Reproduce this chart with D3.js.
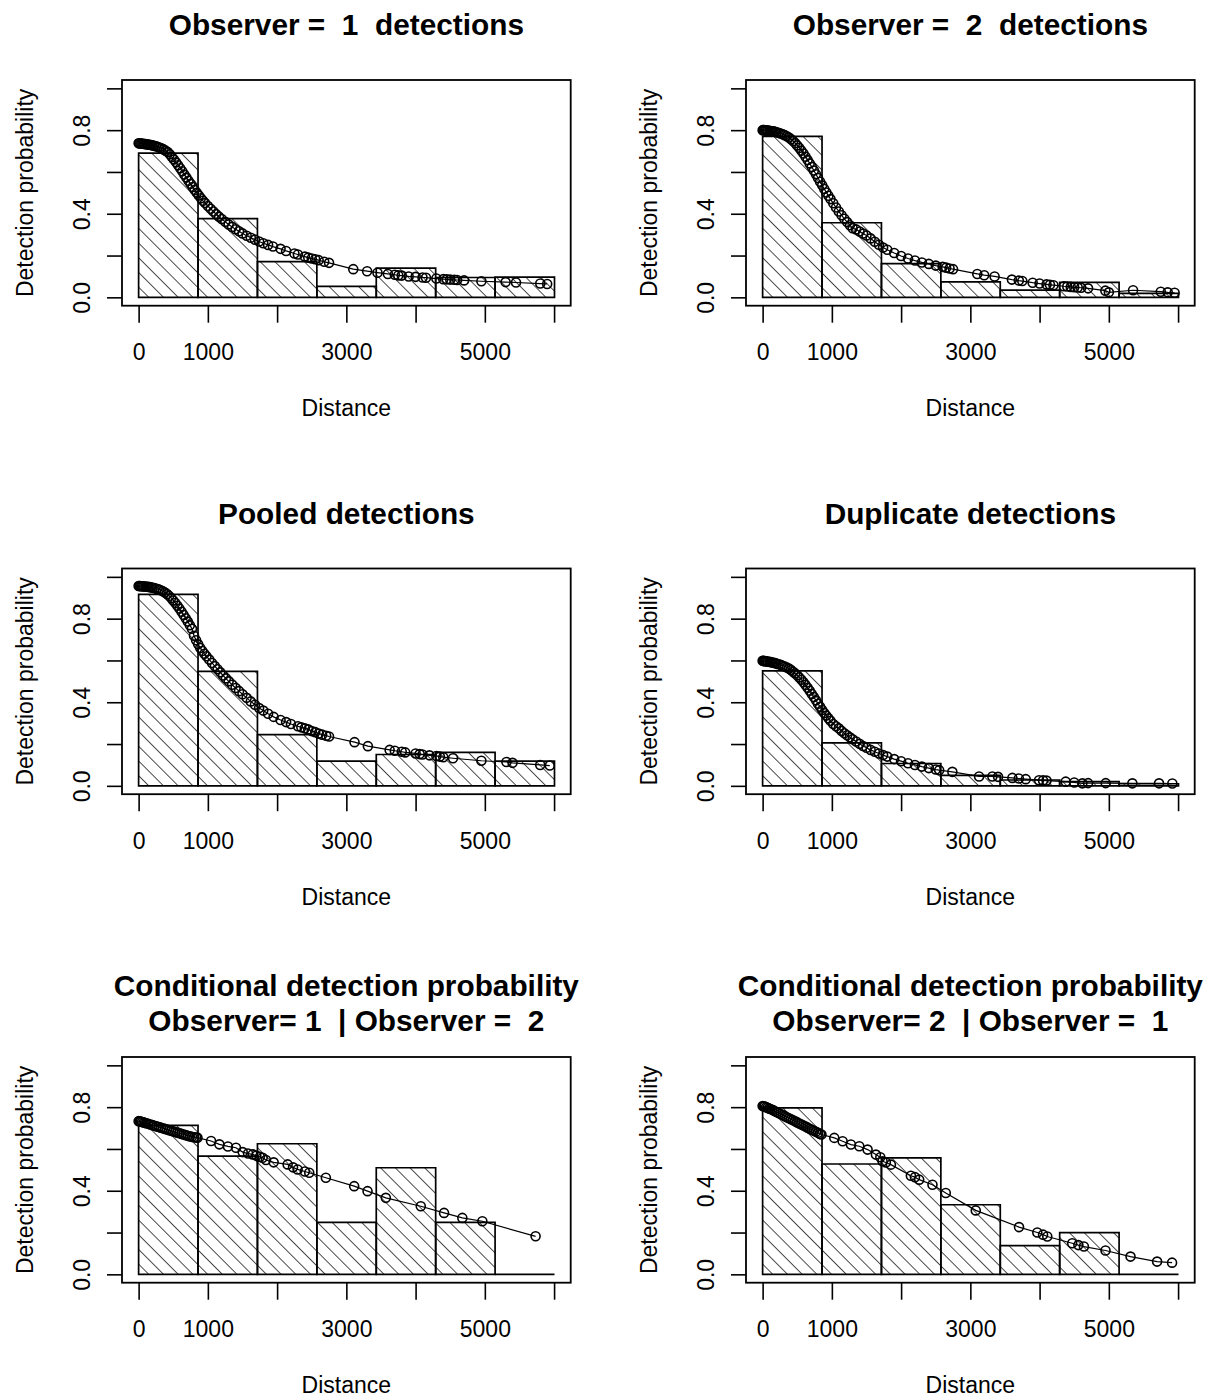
<!DOCTYPE html>
<html>
<head>
<meta charset="utf-8">
<script src="https://cdn.jsdelivr.net/npm/d3@7"></script>
<style>
  body { margin: 0; background: #fff; }
  text { font-family: "Liberation Sans", Arial, sans-serif; fill: #000; }
</style>
</head>
<body>
<script>
// histogram breaks shared by every panel
var breaks = [0, 858, 1716, 2574, 3432, 4290, 5148, 6006];

// Observer = 1
var obs1Hist = [0.69, 0.377, 0.171, 0.052, 0.14, 0.095, 0.097];
var obs1Dist = [0, 10, 25, 40, 55, 70, 85, 100, 120, 140, 160, 180, 200, 225, 250, 275, 300, 330, 360, 390,
  420, 450, 480, 510, 540, 570, 600, 630, 660, 690, 720, 750, 780, 810, 840, 870, 900, 930, 960, 1000,
  1040, 1080, 1120, 1160, 1200, 1250, 1300, 1350, 1400, 1450, 1500, 1560, 1620, 1680, 1740, 1800, 1870, 1940,
  2050, 2130, 2250, 2300, 2400, 2450, 2500, 2550, 2600, 2680, 2750, 3100, 3300, 3450, 3600, 3700, 3750, 3800,
  3900, 4000, 4100, 4150, 4300, 4400, 4450, 4500, 4560, 4600, 4700, 4950, 5300, 5450, 5800, 5900];
var obs1Prob = [.737, .737, .736, .736, .735, .735, .734, .733, .732, .731, .730, .729, .727, .725, .723, .720, .717, .713, .708, .702,
  .695, .685, .672, .660, .646, .632, .618, .603, .588, .573, .558, .543, .528, .514, .500, .487, .474, .462, .451, .437,
  .424, .411, .398, .386, .375, .362, .349, .337, .326, .316, .306, .295, .285, .276, .267, .259, .251, .243,
  .232, .222, .210, .205, .195, .190, .186, .182, .178, .170, .165, .135, .125, .118, .112, .108, .105, .104,
  .100, .098, .095, .094, .090, .087, .086, .085, .084, .083, .081, .077, .073, .071, .066, .064];

// Observer = 2
var obs2Hist = [0.77, 0.357, 0.161, 0.074, 0.035, 0.072, 0.019];
var obs2Dist = [0, 10, 20, 35, 50, 65, 80, 100, 120, 140, 160, 180, 200, 230, 260, 290, 320, 350,
  380, 410, 440, 470, 500, 530, 560, 590, 620, 650, 680, 710, 740, 770, 800, 830, 860, 890, 920, 950, 980,
  1020, 1060, 1100, 1140, 1180, 1220, 1260, 1300, 1350, 1400, 1450, 1500, 1560, 1620, 1680, 1740,
  1800, 1900, 2000, 2100, 2200, 2300, 2400, 2500, 2600, 2650, 2700, 2750, 3100, 3200, 3350, 3600, 3700, 3750,
  3900, 4000, 4100, 4150, 4200, 4350, 4400, 4450, 4500, 4550, 4600, 4700, 4950, 5000, 5350, 5750, 5850, 5950];
var obs2Prob = [.800, .800, .800, .799, .799, .798, .798, .797, .796, .795, .794, .792, .790, .787, .784, .780, .776, .771,
  .765, .757, .748, .738, .727, .715, .702, .688, .673, .657, .641, .624, .607, .589, .571, .553, .536, .519, .502, .486, .470,
  .450, .430, .411, .393, .376, .360, .345, .331, .325, .315, .305, .296, .282, .266, .252, .238,
  .228, .212, .198, .186, .176, .167, .160, .152, .146, .142, .138, .135, .112, .106, .100, .085, .080, .078,
  .070, .066, .062, .060, .058, .053, .052, .050, .048, .047, .046, .043, .032, .024, .034, .027, .024, .022];

// Pooled
var poolHist = [0.916, 0.548, 0.245, 0.118, 0.15, 0.16, 0.118];
var poolDist = [0, 10, 20, 35, 50, 65, 80, 100, 120, 140, 160, 180, 200, 230, 260, 290, 320, 350,
  380, 410, 440, 470, 500, 530, 560, 590, 620, 650, 680, 710, 740, 770, 800, 830, 860, 890, 920, 950, 980,
  1020, 1060, 1100, 1140, 1180, 1220, 1260, 1300, 1350, 1400, 1450, 1500, 1560, 1620, 1680, 1740,
  1800, 1870, 1950, 2050, 2130, 2200, 2300, 2350, 2400, 2450, 2500, 2550, 2600, 2650, 2708, 2750,
  3118, 3311, 3625, 3700, 3800, 3850, 4000, 4059, 4100, 4200, 4300, 4350, 4400, 4540, 4950, 5312, 5400, 5800, 5938];
var poolProb = [.956, .956, .956, .955, .955, .955, .954, .954, .953, .952, .951, .950, .948, .946, .943, .940, .936, .931,
  .925, .918, .909, .899, .887, .875, .862, .848, .833, .818, .802, .786, .769, .752, .718, .697, .677, .660, .645, .632, .620,
  .604, .588, .573, .558, .543, .528, .514, .500, .484, .468, .453, .438, .421, .404, .388, .372,
  .360, .345, .330, .315, .305, .296, .285, .280, .275, .270, .262, .257, .250, .245, .240, .236,
  .209, .190, .172, .168, .163, .160, .155, .152, .150, .146, .143, .140, .137, .132, .120, .114, .110, .100, .097];

// Duplicates
var dupHist = [0.55, 0.206, 0.107, 0.05, 0.028, 0.02, 0.01];
var dupDist = [0, 10, 20, 35, 50, 65, 80, 100, 120, 140, 160, 180, 200, 230, 260, 290, 320, 350,
  380, 410, 440, 470, 500, 530, 560, 590, 620, 650, 680, 710, 740, 770, 800, 830, 860, 890, 920, 950, 980,
  1020, 1060, 1100, 1140, 1180, 1220, 1260, 1300, 1350, 1400, 1450, 1500, 1560, 1620, 1680, 1740,
  1800, 1900, 2000, 2100, 2200, 2300, 2400, 2500, 2550, 2740, 3126, 3318, 3400, 3607, 3700, 3800, 3992, 4050, 4100,
  4377, 4500, 4618, 4700, 4955, 5340, 5725, 5917];
var dupProb = [.598, .598, .597, .597, .596, .595, .594, .593, .592, .590, .589, .587, .585, .582, .579, .575, .571, .566,
  .561, .554, .546, .538, .529, .519, .508, .496, .483, .469, .455, .440, .425, .409, .393, .378, .363, .349, .336, .323, .311,
  .296, .285, .275, .263, .252, .242, .232, .223, .212, .201, .191, .182, .172, .163, .155, .147,
  .140, .128, .118, .108, .100, .092, .085, .078, .075, .067, .045, .045, .043, .038, .035, .032, .027, .026, .025,
  .020, .016, .012, .013, .013, .012, .012, .011];

// Conditional 1 | 2
var cond1Hist = [0.713, 0.566, 0.625, 0.249, 0.51, 0.249, 0];
var cond1Dist = [0, 15, 30, 50, 70, 90, 110, 140, 170, 200, 230, 260, 290, 320, 350, 380, 410, 440, 470, 500,
  530, 560, 590, 620, 650, 680, 710, 740, 770, 800, 830, 850,
  1046, 1166, 1290, 1406, 1503, 1580, 1647, 1700, 1750, 1791, 1839, 1950, 2152, 2230, 2296, 2400, 2464, 2704,
  3113, 3306, 3570, 4075, 4411, 4675, 4964, 5733];
var cond1Prob = [.733, .732, .731, .729, .727, .725, .723, .720, .717, .714, .711, .708, .705, .702, .699, .696, .693, .690, .687, .684,
  .681, .678, .675, .672, .669, .666, .663, .660, .658, .656, .655, .654,
  .638, .622, .612, .606, .585, .578, .574, .568, .562, .558, .547, .536, .526, .512, .502, .492, .486, .462,
  .422, .398, .366, .326, .294, .270, .254, .182];

// Conditional 2 | 1
var cond2Hist = [0.797, 0.528, 0.557, 0.333, 0.137, 0.2, 0];
var cond2Dist = [0, 15, 30, 50, 70, 90, 110, 140, 170, 200, 230, 260, 290, 320, 350, 380, 410, 440, 470, 500,
  530, 560, 590, 620, 650, 680, 710, 740, 770, 800, 830, 850,
  1035, 1155, 1275, 1396, 1516, 1636, 1700, 1732, 1780, 1853, 2141, 2200, 2261, 2453, 2645, 3078, 3703, 3967,
  4050, 4111, 4471, 4560, 4640, 4952, 5313, 5697, 5913];
var cond2Prob = [.805, .804, .803, .800, .797, .794, .791, .787, .782, .777, .772, .767, .762, .757, .752, .747, .742, .737, .732, .727,
  .722, .717, .712, .707, .702, .697, .692, .687, .682, .677, .672, .669,
  .653, .637, .621, .613, .597, .573, .560, .541, .535, .525, .472, .465, .453, .429, .389, .306, .226, .200,
  .190, .181, .149, .140, .133, .114, .085, .061, .056];

var xTicks = [0, 1000, 2000, 3000, 4000, 5000, 6000];
var xLabels = [0, 1000, 3000, 5000];
var yTicks = [0, 0.2, 0.4, 0.6, 0.8, 1.0];
var yLabels = [0, 0.4, 0.8];

var panels = [
  {title: ["Observer =  1  detections"], hist: obs1Hist, dist: obs1Dist, prob: obs1Prob},
  {title: ["Observer =  2  detections"], hist: obs2Hist, dist: obs2Dist, prob: obs2Prob},
  {title: ["Pooled detections"], hist: poolHist, dist: poolDist, prob: poolProb},
  {title: ["Duplicate detections"], hist: dupHist, dist: dupDist, prob: dupProb},
  {title: ["Conditional detection probability", "Observer= 1  | Observer =  2"], hist: cond1Hist, dist: cond1Dist, prob: cond1Prob},
  {title: ["Conditional detection probability", "Observer= 2  | Observer =  1"], hist: cond2Hist, dist: cond2Dist, prob: cond2Prob}
];

var boxW = 448.7, boxH = 225.7;

var svg = d3.select("body")
  .append("svg")
  .attr("width", 1209)
  .attr("height", 1400);

// hatch pattern, lines going down to the right
svg.append("defs")
  .append("pattern")
  .attr("id", "hatch")
  .attr("patternUnits", "userSpaceOnUse")
  .attr("width", 10.4)
  .attr("height", 10.4)
  .attr("patternTransform", "rotate(-45)")
  .append("line")
  .attr("x1", 0).attr("y1", 0)
  .attr("x2", 0).attr("y2", 10.4)
  .attr("stroke", "#000")
  .attr("stroke-width", 1.4);

panels.forEach(function(p, i) {
  var col = i % 2, row = Math.floor(i / 2);
  var left = 122 + col * 624, top = 80 + row * 488.5;

  var g = svg.append("g")
    .attr("transform", "translate(" + left + "," + top + ")");

  var x = d3.scaleLinear().domain([-240, 6240]).range([0, boxW]);
  var y = d3.scaleLinear().domain([-0.04, 1.04]).range([boxH, 0]);

  // histogram bars
  var bins = p.hist.map(function(h, k) { return {x0: breaks[k], x1: breaks[k + 1], h: h}; });
  g.selectAll("path.bar")
    .data(bins)
    .enter()
    .append("path")
    .attr("class", "bar")
    .attr("d", function(d) {
      return "M" + x(d.x0) + "," + y(0) + "V" + y(d.h) + "H" + x(d.x1) + "V" + y(0) + "Z";
    })
    .attr("fill", "url(#hatch)")
    .attr("stroke", "#000")
    .attr("stroke-width", 1.7);

  // fitted line and points
  var pts = p.dist.map(function(d, k) { return [d, p.prob[k]]; });
  g.append("path")
    .datum(pts)
    .attr("fill", "none")
    .attr("stroke", "#000")
    .attr("stroke-width", 1.2)
    .attr("d", d3.line()
      .x(function(d) { return x(d[0]); })
      .y(function(d) { return y(d[1]); }));

  g.selectAll("circle")
    .data(pts)
    .enter()
    .append("circle")
    .attr("cx", function(d) { return x(d[0]); })
    .attr("cy", function(d) { return y(d[1]); })
    .attr("r", 4.5)
    .attr("fill", "none")
    .attr("stroke", "#000")
    .attr("stroke-width", 1.6);

  // box
  g.append("rect")
    .attr("width", boxW)
    .attr("height", boxH)
    .attr("fill", "none")
    .attr("stroke", "#000")
    .attr("stroke-width", 1.8);

  // X axis
  var xAxis = g.append("g")
    .attr("transform", "translate(0," + boxH + ")")
    .call(d3.axisBottom(x)
      .tickValues(xTicks)
      .tickSize(17)
      .tickSizeOuter(0)
      .tickFormat(function(d) { return xLabels.indexOf(d) >= 0 ? d : ""; }));
  xAxis.select(".domain").remove();
  xAxis.selectAll("line").attr("stroke", "#000").attr("stroke-width", 1.6);
  xAxis.selectAll("text")
    .attr("y", 54.8)
    .attr("dy", 0)
    .style("font-size", "23px")
    .style("font-family", "Liberation Sans, Arial, sans-serif")
    .attr("fill", "#000");

  // Y axis
  var yAxis = g.append("g")
    .call(d3.axisLeft(y)
      .tickValues(yTicks)
      .tickSize(15)
      .tickSizeOuter(0)
      .tickFormat(function(d) { return yLabels.indexOf(d) >= 0 ? d3.format(".1f")(d) : ""; }));
  yAxis.select(".domain").remove();
  yAxis.selectAll("line").attr("stroke", "#000").attr("stroke-width", 1.6);
  yAxis.selectAll("text")
    .attr("x", 0)
    .attr("dy", 0)
    .attr("transform", "translate(-32,0) rotate(-90)")
    .attr("text-anchor", "middle")
    .style("font-size", "23px")
    .style("font-family", "Liberation Sans, Arial, sans-serif")
    .attr("fill", "#000");

  // axis titles
  g.append("text")
    .attr("x", boxW / 2)
    .attr("y", boxH + 110.7)
    .attr("text-anchor", "middle")
    .style("font-size", "23px")
    .text("Distance");

  g.append("text")
    .attr("transform", "translate(-89," + boxH / 2 + ") rotate(-90)")
    .attr("text-anchor", "middle")
    .style("font-size", "23px")
    .text("Detection probability");

  // main title
  var tY = p.title.length == 1 ? [-45] : [-60.7, -25.7];
  p.title.forEach(function(t, k) {
    g.append("text")
      .attr("x", boxW / 2)
      .attr("y", tY[k])
      .attr("text-anchor", "middle")
      .style("font-size", "29.8px")
      .style("font-weight", "bold")
      .style("white-space", "pre")
      .text(t);
  });
});
</script>
</body>
</html>
